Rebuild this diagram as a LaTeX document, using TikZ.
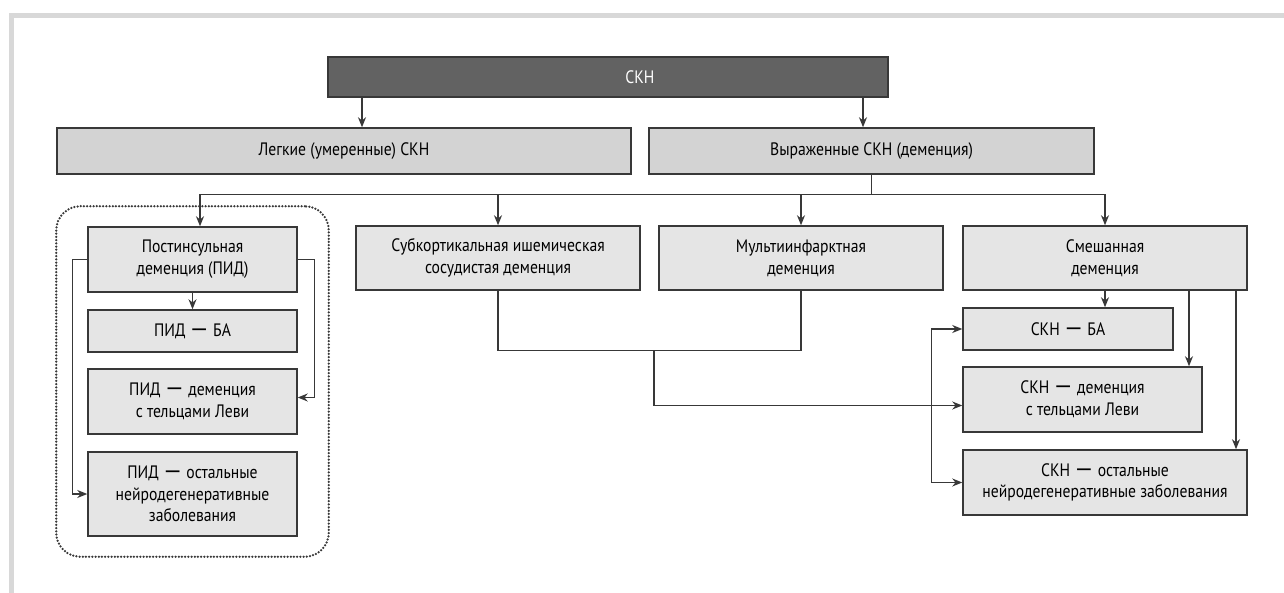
\documentclass[tikz,border=0pt]{standalone}
\usepackage{fontspec}
\setmainfont[FakeStretch=0.87]{PT Sans}
\usetikzlibrary{positioning, fit, calc, arrows.meta}

\definecolor{framegray}{HTML}{D8D8D8}
\definecolor{topfill}{HTML}{626262}
\definecolor{midfill}{HTML}{D3D3D3}
\definecolor{lowfill}{HTML}{E5E5E5}
\definecolor{edgegray}{HTML}{383838}

\newcommand{\longdash}{\scalebox{1.5}[1.3]{—}}

\tikzset{
  box/.style={draw=edgegray, line width=1.5pt, fill=lowfill, align=center,
    inner sep=0pt, font=\fontsize{18}{21.7}\selectfont},
  topbox/.style={box, fill=topfill, text=white},
  midbox/.style={box, fill=midfill},
  link/.style={draw=edgegray, line width=1.3pt},
  arr/.style={link, -{Stealth[length=10pt, width=8pt]}},
  twoarr/.style={link, {Stealth[length=10pt, width=8pt]}-{Stealth[length=10pt, width=8pt]}}
}

\begin{document}
\begin{tikzpicture}[x=1pt, y=-1pt]

% Manually size the picture
\useasboundingbox (0, 0) rectangle (1284, 593);

% Outer frame
\draw[framegray, line width=5pt] (1284, 15.5) -| (11.5, 593);

% Top level
\node[topbox, minimum width=560, minimum height=40] (ckn) at (608, 77) {\hspace*{64pt}СКН};

% Second level
\node[midbox, minimum width=574, minimum height=46] (mild) at (344, 151) {Легкие (умеренные) СКН};
\node[midbox, minimum width=445, minimum height=46] (severe) at (871.5, 151) {Выраженные СКН (деменция)};

% Dementia types
\node[box, minimum width=209, minimum height=65] (pid) at (192.5, 259.5) {Постинсульная\\деменция (ПИД)};
\node[box, minimum width=284, minimum height=64] (sub) at (498, 258) {Субкортикальная ишемическая\\сосудистая деменция};
\node[box, minimum width=284, minimum height=64] (multi) at (801, 258) {Мультиинфарктная\\деменция};
\node[box, minimum width=284, minimum height=64] (mixed) at (1105, 258) {Смешанная\\деменция};

% Post-stroke column
\node[box, minimum width=209, minimum height=42] (pidba) at (192.5, 331) {ПИД \longdash{} БА};
\node[box, minimum width=209, minimum height=65] (pidlevy) at (192.5, 401.5) {ПИД \longdash{} деменция\\с тельцами Леви};
\node[box, minimum width=209, minimum height=84] (pidother) at (192.5, 494) {ПИД \longdash{} остальные\\нейродегенеративные\\заболевания};

% Mixed column
\node[box, minimum width=210, minimum height=42] (sba) at (1068, 329) {СКН \longdash{} БА};
\node[box, minimum width=239, minimum height=65] (slevy) at (1082.5, 399.5) {СКН \longdash{} деменция\\с тельцами Леви};
\node[box, minimum width=284, minimum height=65] (sother) at (1105, 482.5) {СКН \longdash{} остальные\\нейродегенеративные заболевания};

% Dotted group round post-stroke column
\node[draw=edgegray, line width=2.5pt, line cap=round, dash pattern=on 0pt off 3.2pt,
  rounded corners=24pt, inner xsep=31pt, inner ysep=20pt, fit=(pid)(pidother)] (pidgroup) {};

% Helper columns
\coordinate (c1) at (362, 0);
\coordinate (c2) at (863, 0);
\coordinate (c3) at (200, 0);
\coordinate (c4) at (1189, 0);
\coordinate (c5) at (1236, 0);

% From the top box
\draw[arr] (c1 |- ckn.south) -- (c1 |- mild.north);
\draw[arr] (c2 |- ckn.south) -- (c2 |- severe.north);

% Branching of dementia
\draw[link] (severe.south) -- ++(0, 20) coordinate (bus);
\draw[arr] (bus) -| (c3 |- pid.north);
\draw[arr] (bus) -| (mixed.north);
\draw[arr] (sub.north |- bus) -- (sub.north);
\draw[arr] (multi.north |- bus) -- (multi.north);

% Inside the dotted group
\draw[arr] (pid.south) -- (pidba.north);
\draw[arr] (pid.west) -- ++(-15, 0) |- (pidother.west);
\draw[arr] (pid.east) -- ++(17, 0) |- ([yshift=4pt]pidlevy.east);

% Vascular join
\draw[link] (sub.south) -- ++(0, 60) coordinate (j1) -| (multi.south);
\coordinate (j2) at ($(j1)!0.515!(j1 -| multi.south)$);
\draw[arr] (j2) |- ([yshift=-6pt]slevy.west);

% Mixed dementia links
\draw[arr] (mixed.south) -- (mixed.south |- sba.north);
\draw[arr] (c4 |- mixed.south) -- (c4 |- slevy.north);
\draw[arr] (c5 |- mixed.south) -- (c5 |- sother.north);
\draw[twoarr] (sba.west) -- ++(-31, 0) |- (sother.west);

\end{tikzpicture}
\end{document}
